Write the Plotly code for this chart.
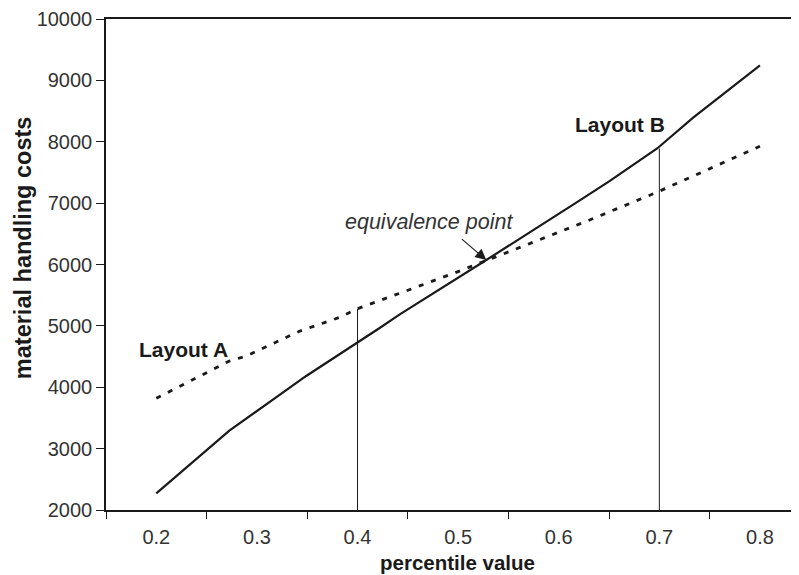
import plotly.graph_objects as go

# ---- data ----
tick_labels = ["0.2", "0.3", "0.4", "0.5", "0.6", "0.7", "0.8"]
tick_values = [0.2, 0.3, 0.4, 0.5, 0.6, 0.7, 0.8]
category_edges = [0.15, 0.25, 0.35, 0.45, 0.55, 0.65, 0.75, 0.85]

layout_b_x = [0.2, 0.2726, 0.349, 0.4, 0.422, 0.442, 0.528, 0.6209, 0.6508, 0.6978, 0.7336, 0.8]
layout_b_y = [2270, 3294, 4184, 4723, 4966, 5188, 6073, 7044, 7362, 7890, 8392, 9244]

layout_a_x = [0.2, 0.2726, 0.2893, 0.3423, 0.3821, 0.4, 0.442, 0.498, 0.6259, 0.6978, 0.8]
layout_a_y = [3820, 4427, 4508, 4913, 5139, 5280, 5532, 5872, 6693, 7178, 7927]

marker_a_x = [0.4, 0.4]
marker_a_y = [2000, 5280]
marker_b_x = [0.7, 0.7]
marker_b_y = [2000, 7890]

equiv_x = 0.528
equiv_y = 6073

FONT = "Liberation Sans, Arial, sans-serif"
INK = "#1a1a1a"

fig = go.Figure()
fig.add_trace(go.Scatter(x=marker_a_x, y=marker_a_y, mode="lines",
                         line=dict(color=INK, width=1), showlegend=False))
fig.add_trace(go.Scatter(x=marker_b_x, y=marker_b_y, mode="lines",
                         line=dict(color=INK, width=1), showlegend=False))
fig.add_trace(go.Scatter(x=layout_a_x, y=layout_a_y, mode="lines", name="Layout A",
                         line=dict(color=INK, width=2.8, dash="5px,8px"), showlegend=False))
fig.add_trace(go.Scatter(x=layout_b_x, y=layout_b_y, mode="lines", name="Layout B",
                         line=dict(color=INK, width=2.2), showlegend=False))

# page body has an 8px default margin: size the figure so it fills the window
fig.update_layout(
    width=791, height=567,
    margin=dict(l=98, r=0, t=8, b=65),
    paper_bgcolor="white", plot_bgcolor="white",
    font=dict(family=FONT, size=20, color=INK),
    xaxis=dict(
        range=[0.15, 0.8388], tickvals=tick_values, ticktext=tick_labels,
        ticks="", showgrid=False, zeroline=False, ticklabelstandoff=8,
        showline=True, linecolor=INK, linewidth=1.5, mirror=True,
        tickfont=dict(size=20, color="#333"),
        minor=dict(tickvals=category_edges, ticks="outside", ticklen=7,
                   tickcolor=INK, tickwidth=1.2, showgrid=False),
    ),
    yaxis=dict(
        range=[2000, 10000], dtick=1000, tickformat="d", ticks="outside", ticklen=8,
        tickcolor=INK, tickwidth=1.2, showgrid=False, zeroline=False,
        showline=True, linecolor=INK, linewidth=1.5, ticklabeloverflow="allow",
        tickfont=dict(size=20, color="#333"),
    ),
    annotations=[
        dict(text="<b>percentile value</b>", xref="paper", yref="paper",
             x=0.5065, y=-0.1073, xanchor="center", yanchor="middle",
             showarrow=False, font=dict(size=20.5, color=INK)),
        dict(text="<b>material handling costs</b>", xref="paper", yref="paper",
             x=-0.12, y=0.533, xanchor="center", yanchor="middle", textangle=-90,
             showarrow=False, font=dict(size=23.5, color=INK)),
        dict(text="<b>Layout A</b>", x=0.2269, y=4621, xref="x", yref="y",
             showarrow=False, font=dict(size=21, color=INK)),
        dict(text="<b>Layout B</b>", x=0.6607, y=8286, xref="x", yref="y",
             showarrow=False, font=dict(size=21, color=INK)),
        dict(text="<i>equivalence point</i>", x=0.4706, y=6693, xref="x", yref="y",
             showarrow=False, font=dict(size=21.5, color="#333")),
        dict(text="", x=equiv_x, y=equiv_y, xref="x", yref="y",
             ax=0.5022, ay=6434, axref="x", ayref="y",
             showarrow=True, arrowhead=2, arrowsize=2, arrowwidth=1.1,
             arrowcolor=INK),
    ],
)

fig.write_html("out.html")
